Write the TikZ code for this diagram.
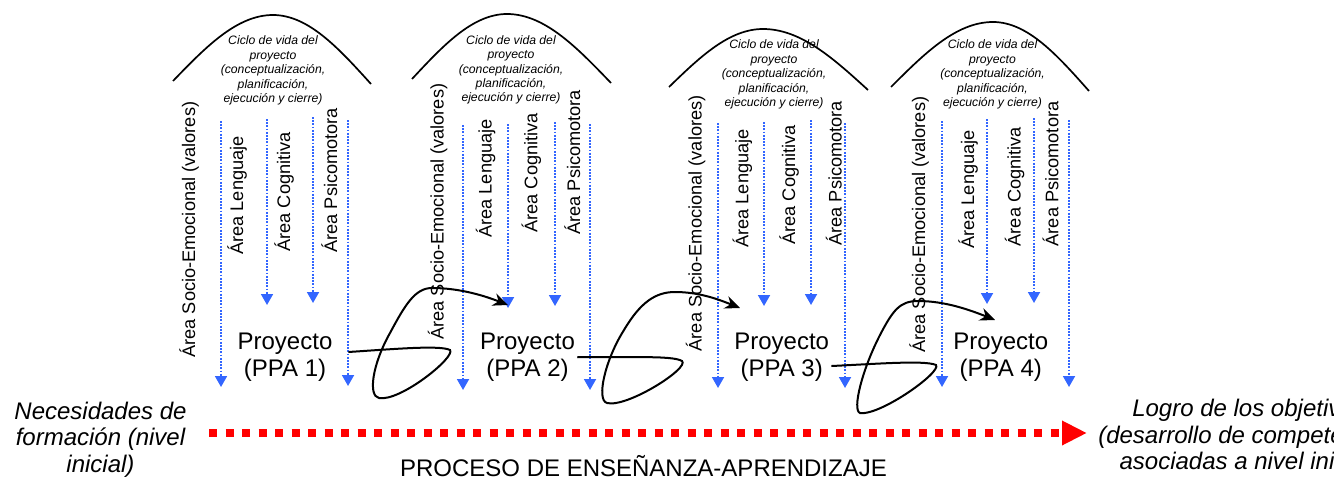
\documentclass[tikz,border=0pt]{standalone}
\usepackage{fontspec}
\setmainfont{Liberation Sans}
\usepackage{xcolor}
\usetikzlibrary{arrows.meta}

\definecolor{areablue}{RGB}{51,102,255}

\begin{document}
\begin{tikzpicture}[x=0.5pt,y=-0.5pt,
            area/.style={areablue,line width=0.9pt,dash pattern=on 0.9pt off 0.7pt,-{Triangle[length=5.5pt,width=6pt]}},
            arealabel/.style={rotate=90,anchor=base west,inner sep=0pt,font=\fontsize{9.1}{11}\selectfont},
            ciclo/.style={align=center,inner sep=0pt,font=\fontsize{6.1}{7.2}\selectfont\itshape},
            arco/.style={line width=0.85pt},
            proj/.style={align=center,inner sep=1pt,font=\fontsize{12}{13.3}\selectfont},
            lazo/.style={line width=1pt,-{Stealth[length=7.5pt,width=6.5pt]}},
            extremo/.style={align=center,inner sep=0pt,font=\fontsize{12}{13.25}\selectfont\itshape},
            avance/.style={red,line width=4pt,dash pattern=on 4pt off 4.25pt,-{Triangle[length=12.5pt,width=11.5pt]}}]
            		\clip (0,0) rectangle (1334,482);

            		% PPA 1
            		\draw[arco] (173,81) sin (273,15) cos (371,84);
            		\node (c1) at (273,70.5) [ciclo] {Ciclo de vida del\\proyecto\\(conceptualización,\\planificación,\\ejecución y cierre)};
            		\node (s1) at (195,358) [arealabel] {Área Socio-Emocional (valores)};
            		\node (l1) at (243,255) [arealabel] {Área Lenguaje};
            		\node (g1) at (290,252) [arealabel] {Área Cognitiva};
            		\node (m1) at (337,253) [arealabel] {Área Psicomotora};
            		\draw[area] (221,121) -- (221,387);
            		\draw[area] (267,119) -- (267,305);
            		\draw[area] (313,117) -- (313,303);
            		\draw[area] (348,120) -- (348,386);
            		\node (p1) at (285,357) [proj] {Proyecto\\(PPA 1)};

            		% PPA 2
            		\draw[arco] (412,79) sin (507,14) cos (611,83);
            		\node (c2) at (511,69.9) [ciclo] {Ciclo de vida del\\proyecto\\(conceptualización,\\planificación,\\ejecución y cierre)};
            		\node (s2) at (443.5,340) [arealabel] {Área Socio-Emocional (valores)};
            		\node (l2) at (491.7,238) [arealabel] {Área Lenguaje};
            		\node (g2) at (537.3,233) [arealabel] {Área Cognitiva};
            		\node (m2) at (580,235) [arealabel] {Área Psicomotora};
            		\draw[area] (463,125) -- (463,390);
            		\draw[area] (508,124) -- (508,308);
            		\draw[area] (555,122) -- (555,306);
            		\draw[area] (590,124) -- (590,390);
            		\node (p2) at (527.5,357) [proj] {Proyecto\\(PPA 2)};

            		% PPA 3
            		\draw[arco] (669,87) sin (763,29) cos (868,90);
            		\node (c3) at (774,74.5) [ciclo] {Ciclo de vida del\\proyecto\\(conceptualización,\\planificación,\\ejecución y cierre)};
            		\node (s3) at (701.7,351.7) [arealabel] {Área Socio-Emocional (valores)};
            		\node (l3) at (748.3,248) [arealabel] {Área Lenguaje};
            		\node (g3) at (795,245) [arealabel] {Área Cognitiva};
            		\node (m3) at (841.7,246) [arealabel] {Área Psicomotora};
            		\draw[area] (718,123) -- (718,388);
            		\draw[area] (764,122) -- (764,306);
            		\draw[area] (811,120) -- (811,305);
            		\draw[area] (845,123) -- (845,388);
            		\node (p3) at (781.7,357) [proj] {Proyecto\\(PPA 3)};

            		% PPA 4
            		\draw[arco] (891,87) sin (993,22) cos (1089,91);
            		\node (c4) at (992.5,74.5) [ciclo] {Ciclo de vida del\\proyecto\\(conceptualización,\\planificación,\\ejecución y cierre)};
            		\node (s4) at (925,353) [arealabel] {Área Socio-Emocional (valores)};
            		\node (l4) at (974,249) [arealabel] {Área Lenguaje};
            		\node (g4) at (1020.7,246.7) [arealabel] {Área Cognitiva};
            		\node (m4) at (1058.3,246.7) [arealabel] {Área Psicomotora};
            		\draw[area] (942,121) -- (942,387);
            		\draw[area] (987,119) -- (987,304);
            		\draw[area] (1034,118) -- (1034,303);
            		\draw[area] (1069,120) -- (1069,387);
            		\node (p4) at (1000.8,357) [proj] {Proyecto\\(PPA 4)};

            		% enlaces entre proyectos
            		\coordinate (t2) at (508,305);
            		\coordinate (t3) at (740,308);
            		\coordinate (t4) at (995,320);
            		\draw[lazo] ([xshift=6.8pt,yshift=2.5pt]p1.east) .. controls (395,349) and (440,345) .. (450,350)
            		      .. controls (456,357) and (400,402) .. (379,398)
            		      .. controls (368,396) and (372,365) .. (390,333)
            		      .. controls (405,305) and (415,288) .. (432,288)
            		      .. controls (460,288) and (485,296) .. (t2);
            		\draw[lazo] (p2.east) .. controls (625,358) and (672,355) .. (682,361)
            		      .. controls (690,368) and (627,408) .. (607,403)
            		      .. controls (596,400) and (605,360) .. (624,330)
            		      .. controls (640,303) and (655,292) .. (675,292)
            		      .. controls (700,292) and (720,300) .. (t3);
            		\draw[lazo] ([yshift=-4.5pt]p3.east) .. controls (875,364) and (925,360) .. (936,365)
            		      .. controls (942,372) and (880,416) .. (860,413)
            		      .. controls (852,410) and (862,370) .. (880,335)
            		      .. controls (893,310) and (900,301) .. (918,301)
            		      .. controls (945,301) and (970,310) .. (t4);

            		% proceso
            		\node (ini) at (100.5,439.3) [extremo] {Necesidades de\\formación (nivel\\inicial)};
            		\node (fin) at (1249,436.8) [extremo] {Logro de los objetivos\\(desarrollo de competencias\\asociadas a nivel inicial)};
            		\coordinate (a) at (209,433);
            		\coordinate (b) at (1087,433);
            		\draw[avance] (a) -- (b);
            		\node (pr) at (643.5,476) [anchor=base,inner sep=0pt,font=\fontsize{12}{13}\selectfont] {PROCESO DE ENSEÑANZA-APRENDIZAJE};

        		\end{tikzpicture}
\end{document}
